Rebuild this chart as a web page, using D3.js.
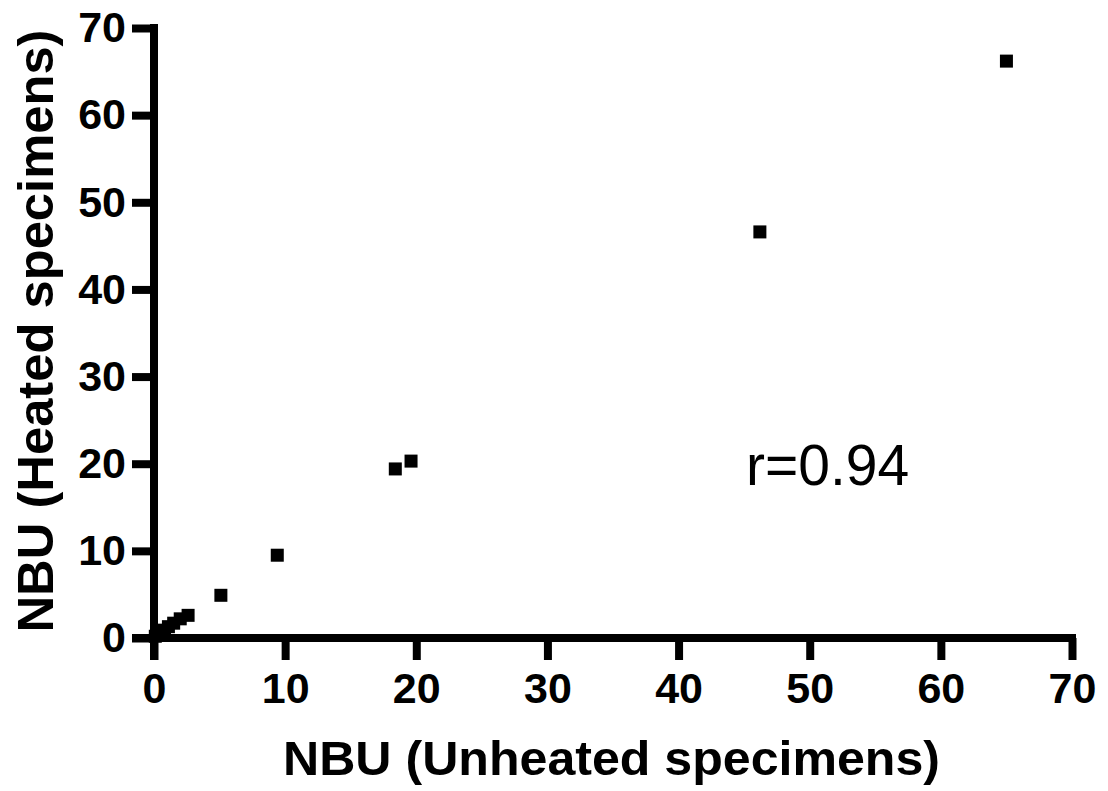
<!DOCTYPE html>
<html>
<head>
<meta charset="utf-8">
<script src="https://cdn.jsdelivr.net/npm/d3@7"></script>
<style>
  body { margin: 0; background: #fff; }
  .axis text { font-family: "Liberation Sans", Arial, sans-serif; font-weight: bold; font-size: 43px; fill: #000; }
  .axis path, .axis line { stroke: #000; stroke-width: 8; }
</style>
</head>
<body>
<script>
// NBU unheated vs heated
var unheated = [0.1, 0.3, 0.5, 0.8, 1.1, 1.5, 2.0, 2.6, 5.1, 9.4, 18.4, 19.6, 46.2, 65.0];
var heated   = [0.2, 0.4, 0.6, 0.9, 1.3, 1.7, 2.2, 2.6, 4.9, 9.5, 19.4, 20.3, 46.6, 66.2];
var xTicks = [0, 10, 20, 30, 40, 50, 60, 70];
var yTicks = [0, 10, 20, 30, 40, 50, 60, 70];

var W = 1108, H = 791;
var margin = {left: 154, top: 28, right: 36, bottom: 153};

var svg = d3.select("body").append("svg")
  .attr("width", W)
  .attr("height", H);

var x = d3.scaleLinear().domain([0, 70]).range([margin.left, W - margin.right]);
var y = d3.scaleLinear().domain([0, 70]).range([H - margin.bottom, margin.top]);

svg.append("g")
  .attr("class", "axis")
  .attr("transform", "translate(0," + y(0) + ")")
  .call(d3.axisBottom(x).tickValues(xTicks).tickSize(22).tickSizeOuter(0).tickPadding(12))
  .call(function(g){ g.select(".domain").attr("d", "M" + (x(0) - 22) + ",0H" + (x(70) + 4)); });

svg.append("g")
  .attr("class", "axis")
  .attr("transform", "translate(" + x(0) + ",0)")
  .call(d3.axisLeft(y).tickValues(yTicks).tickSize(22).tickSizeOuter(0).tickPadding(6))
  .call(function(g){ g.select(".domain").attr("d", "M0," + (y(0) + 22) + "V" + (y(70) - 4)); });

var s = 13;
svg.selectAll("rect.pt")
  .data(unheated)
  .enter()
  .append("rect")
  .attr("class", "pt")
  .attr("x", function(d){ return x(d) - s / 2; })
  .attr("y", function(d, i){ return y(heated[i]) - s / 2; })
  .attr("width", s)
  .attr("height", s)
  .attr("fill", "#000");

svg.append("text")
  .attr("x", 746)
  .attr("y", 485)
  .attr("font-family", "Liberation Sans, Arial, sans-serif")
  .attr("font-size", 57)
  .text("r=0.94");

svg.append("text")
  .attr("x", (283 + 940) / 2)
  .attr("y", 775)
  .attr("text-anchor", "middle")
  .attr("font-family", "Liberation Sans, Arial, sans-serif")
  .attr("font-weight", "bold")
  .attr("font-size", 49)
  .attr("textLength", 657)
  .attr("lengthAdjust", "spacingAndGlyphs")
  .text("NBU (Unheated specimens)");

svg.append("text")
  .attr("transform", "translate(53," + 331 + ") rotate(-90)")
  .attr("text-anchor", "middle")
  .attr("font-family", "Liberation Sans, Arial, sans-serif")
  .attr("font-weight", "bold")
  .attr("font-size", 50)
  .attr("textLength", 603)
  .attr("lengthAdjust", "spacingAndGlyphs")
  .text("NBU (Heated specimens)");
</script>
</body>
</html>
